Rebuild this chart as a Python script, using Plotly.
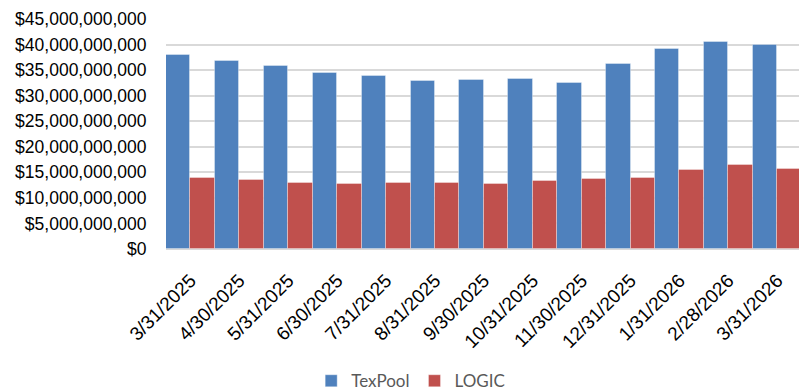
import plotly.graph_objects as go

# Month-end balances (USD) for the two local government investment pools
dates = ["3/31/2025", "4/30/2025", "5/31/2025", "6/30/2025", "7/31/2025",
         "8/31/2025", "9/30/2025", "10/31/2025", "11/30/2025", "12/31/2025",
         "1/31/2026", "2/28/2026", "3/31/2026"]
texpool = [37.95e9, 36.8e9, 35.75e9, 34.4e9, 33.9e9, 32.95e9, 33.05e9,
           33.2e9, 32.4e9, 36.2e9, 39.2e9, 40.55e9, 39.85e9]
logic = [13.95e9, 13.45e9, 12.9e9, 12.7e9, 12.95e9, 12.85e9, 12.65e9,
         13.25e9, 13.75e9, 13.85e9, 15.5e9, 16.5e9, 15.65e9]
y_ticks = [0, 5e9, 10e9, 15e9, 20e9, 25e9, 30e9, 35e9, 40e9, 45e9]
y_tick_labels = ["$0", "$5,000,000,000", "$10,000,000,000", "$15,000,000,000",
                 "$20,000,000,000", "$25,000,000,000", "$30,000,000,000",
                 "$35,000,000,000", "$40,000,000,000", "$45,000,000,000"]

FONT = "Liberation Sans"
LEGEND_FONT = "Lato"

fig = go.Figure()
fig.add_trace(go.Bar(
    x=dates, y=texpool, name="TexPool",
    marker=dict(color="#4F81BD", line=dict(color="rgba(255,255,255,0.35)", width=1)),
))
fig.add_trace(go.Bar(
    x=dates, y=logic, name="LOGIC",
    marker=dict(color="#C0504D", line=dict(color="rgba(255,255,255,0.35)", width=1)),
))

plot_w = 799 - 166
cat_px = 48.9

fig.update_layout(
    width=799, height=391,
    margin=dict(l=166, r=0, t=19, b=142),
    paper_bgcolor="white", plot_bgcolor="white",
    barmode="group", bargap=0, bargroupgap=0,
    font=dict(family=FONT, size=18, color="#000000"),
    showlegend=True,
    legend=dict(
        orientation="h",
        xref="container", x=0.514, xanchor="center",
        yref="container", y=0.025, yanchor="middle",
        font=dict(family=LEGEND_FONT, size=17, color="#595959"),
        itemwidth=30, traceorder="normal",
    ),
    xaxis=dict(
        type="category", automargin=False,
        range=[-0.5, -0.5 + plot_w / cat_px],
        tickangle=-45,
        ticks="outside", ticklen=12, tickcolor="rgba(0,0,0,0)",
        showline=False, showgrid=False,
        tickfont=dict(family=FONT, size=19, color="#000000"),
    ),
    yaxis=dict(
        automargin=False,
        range=[0, 45e9],
        tickmode="array", tickvals=y_ticks, ticktext=y_tick_labels,
        ticks="outside", ticklen=15, tickcolor="rgba(0,0,0,0)",
        showgrid=True, gridcolor="#d9d9d9", gridwidth=1.5,
        zeroline=True, zerolinecolor="#d9d9d9", zerolinewidth=1.5,
        tickfont=dict(family=FONT, size=17.5, color="#000000"),
    ),
)

fig.write_html("out.html")
